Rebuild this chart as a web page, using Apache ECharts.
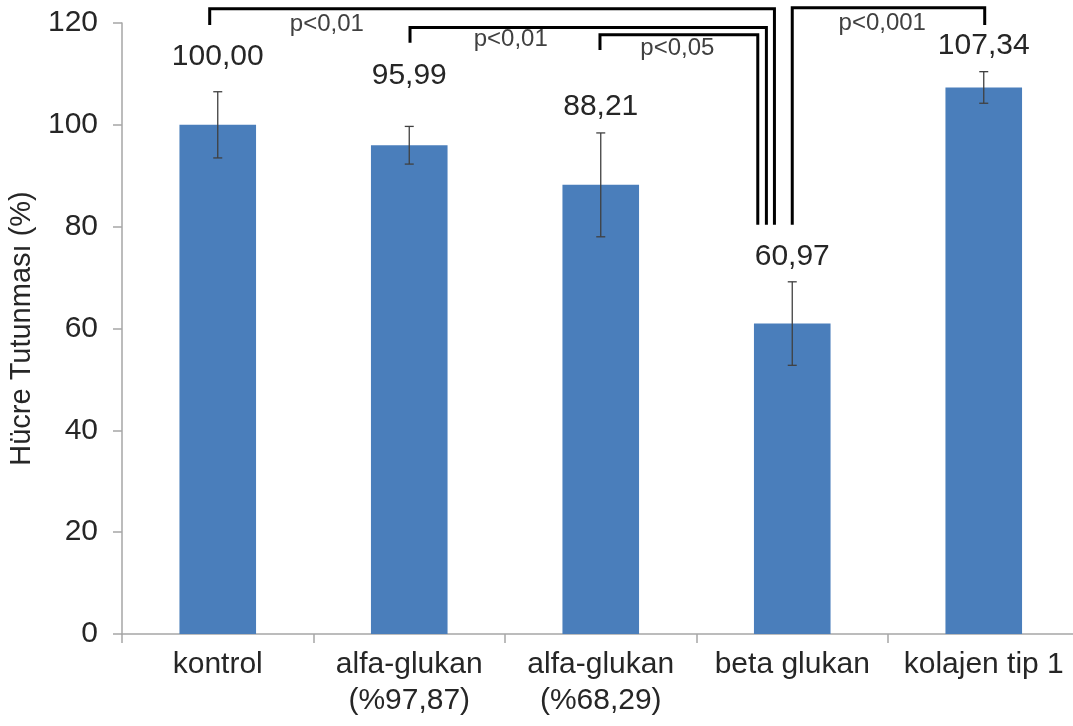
<!DOCTYPE html>
<html>
<head>
<meta charset="utf-8">
<script src="https://cdn.jsdelivr.net/npm/echarts@6/dist/echarts.min.js"></script>
<style>
html,body{margin:0;padding:0;background:#fff;}
#chart{width:1073px;height:726px;}
</style>
</head>
<body>
<div id="chart"></div>
<script>
// ---- data ----
var categories = ['kontrol', 'alfa-glukan\n(%97,87)', 'alfa-glukan\n(%68,29)', 'beta glukan', 'kolajen tip 1'];
var values = [100.00, 95.99, 88.21, 60.97, 107.34];
var valueLabels = ['100,00', '95,99', '88,21', '60,97', '107,34'];
var errors = [6.5, 3.7, 10.2, 8.2, 3.1];
var yTicks = [0, 20, 40, 60, 80, 100, 120];

// significance brackets (category indices and y values in data units)
var bracketFrom = [0, 1, 2, 3];
var bracketTo = [3, 3, 3, 4];
var bracketTop = [122.8, 119.1, 117.7, 123.0];
var bracketLeftEnd = [119.6, 116.1, 114.7, 80.4];
var bracketRightEnd = [80.4, 80.4, 80.4, 119.6];
var bracketText = ['p<0,01', 'p<0,01', 'p<0,05', 'p<0,001'];
var bracketTextX = [0.57, 1.53, 2.40, 3.47];
var bracketTextY = [119.8, 116.7, 115.1, 120.0];
// horizontal nudges as fractions of a category band (style)
var bracketFromShift = [-0.042, 0.004, -0.004, 0.0];
var bracketToShift = [-0.093, -0.135, -0.18, 0.005];
var labelDistance = [53, 55, 63, 52, 27];

var FONT = '"Liberation Sans", Arial, sans-serif';
var chart = echarts.init(document.getElementById('chart'));

var barData = values.map(function (v, i) {
  return { value: v, label: { distance: labelDistance[i], formatter: valueLabels[i] } };
});
var errData = values.map(function (v, i) { return [i, v - errors[i], v + errors[i]]; });
var bracketData = bracketFrom.map(function (f, i) { return [i]; });

function xAt(api, pos) {
  var base = Math.floor(pos + 0.5);
  var c = api.coord([base, 0])[0];
  var band = api.size([1, 0])[0];
  return c + (pos - base) * band;
}

chart.setOption({
  animation: false,
  backgroundColor: '#ffffff',
  grid: { left: 122, right: -6.5, top: 23, bottom: 92, containLabel: false, outerBoundsMode: 'none' },
  xAxis: {
    type: 'category',
    data: categories,
    axisLine: { lineStyle: { color: '#a6a6a6', width: 1.5 } },
    axisTick: { show: true, length: 9, lineStyle: { color: '#a6a6a6', width: 1.5 } },
    axisLabel: { color: '#262626', fontSize: 30, fontFamily: FONT, lineHeight: 36, margin: 13, interval: 0 }
  },
  yAxis: {
    type: 'value',
    min: 0, max: 120, interval: 20,
    name: 'Hücre Tutunması (%)',
    nameLocation: 'middle',
    nameRotate: 90,
    nameGap: 86,
    nameTextStyle: { color: '#262626', fontSize: 29, fontFamily: FONT },
    axisLine: { show: true, lineStyle: { color: '#a6a6a6', width: 1.5 } },
    axisTick: { show: true, length: 9, lineStyle: { color: '#a6a6a6', width: 1.5 } },
    splitLine: { show: false },
    axisLabel: {
      color: '#262626', fontSize: 30, fontFamily: FONT, margin: 24,
      formatter: function (v) { return yTicks.indexOf(v) >= 0 ? String(v) : ''; }
    }
  },
  series: [
    {
      type: 'bar',
      data: barData,
      barWidth: '40%',
      itemStyle: { color: '#4a7ebb' },
      label: { show: true, position: 'top', color: '#262626', fontSize: 30, fontFamily: FONT }
    },
    {
      type: 'custom',
      data: errData,
      z: 5,
      clip: false,
      renderItem: function (params, api) {
        var x = api.coord([api.value(0), 0])[0];
        var lo = api.coord([api.value(0), api.value(1)])[1];
        var hi = api.coord([api.value(0), api.value(2)])[1];
        var cap = 4.5;
        var st = { stroke: '#404040', lineWidth: 1.3 };
        return {
          type: 'group',
          children: [
            { type: 'line', shape: { x1: x, y1: lo, x2: x, y2: hi }, style: st },
            { type: 'line', shape: { x1: x - cap, y1: lo, x2: x + cap, y2: lo }, style: st },
            { type: 'line', shape: { x1: x - cap, y1: hi, x2: x + cap, y2: hi }, style: st }
          ]
        };
      }
    },
    {
      type: 'custom',
      data: bracketData,
      z: 6,
      clip: false,
      renderItem: function (params, api) {
        var i = api.value(0);
        var x1 = xAt(api, bracketFrom[i] + bracketFromShift[i]);
        var x2 = xAt(api, bracketTo[i] + bracketToShift[i]);
        var yT = api.coord([0, bracketTop[i]])[1];
        var yL = api.coord([0, bracketLeftEnd[i]])[1];
        var yR = api.coord([0, bracketRightEnd[i]])[1];
        var tx = xAt(api, bracketTextX[i]);
        var ty = api.coord([0, bracketTextY[i]])[1];
        return {
          type: 'group',
          children: [
            {
              type: 'polyline',
              shape: { points: [[x1, yL], [x1, yT], [x2, yT], [x2, yR]] },
              style: { stroke: '#000000', lineWidth: 3, fill: null, lineJoin: 'miter' }
            },
            {
              type: 'text',
              x: tx, y: ty,
              style: {
                text: bracketText[i], fill: '#404040', fontSize: 24, fontFamily: FONT,
                align: 'center', verticalAlign: 'middle'
              }
            }
          ]
        };
      }
    }
  ]
});
</script>
</body>
</html>
